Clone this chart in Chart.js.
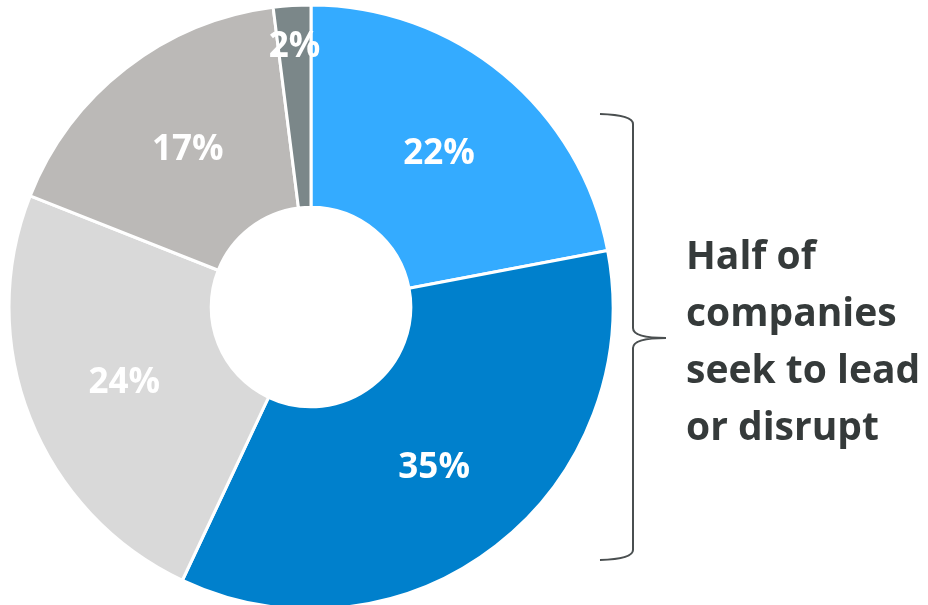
<!DOCTYPE html>
<html lang="en">
<head>
    <meta charset="UTF-8">
    <title>Strategic ambition</title>
    <script src="https://cdn.jsdelivr.net/npm/chart.js"></script>
    <style>
        html, body { margin: 0; padding: 0; background: #ffffff; }
        .chart-box { position: relative; width: 928px; height: 605px; }
    </style>
</head>
<body>
    <div class="chart-box">
        <canvas id="ambitionChart"></canvas>
    </div>
    <script>
        // share of companies per ambition level (clockwise from 12 o'clock)
        const categories = ["Disrupt", "Lead", "Keep pace", "Follow", "Don't know"];
        const shares = [22, 35, 24, 17, 2];
        const sliceColors = ["#34abff", "#0080cc", "#d9d9d9", "#bbb9b7", "#7b8789"];
        const noteLines = ["Half of", "companies", "seek to lead", "or disrupt"];

        // white percentage labels inside each slice
        const sliceLabels = {
            id: "sliceLabels",
            afterDatasetsDraw(chart) {
                const ctx = chart.ctx;
                const meta = chart.getDatasetMeta(0);
                ctx.save();
                ctx.fillStyle = "#ffffff";
                ctx.font = "bold 35px 'Open Sans'";
                ctx.textAlign = "center";
                ctx.textBaseline = "middle";
                meta.data.forEach((arc, i) => {
                    const p = arc.getProps(["x", "y", "startAngle", "endAngle", "innerRadius", "outerRadius"], true);
                    const mid = (p.startAngle + p.endAngle) / 2;
                    // thin slices get their label pushed towards the rim
                    const r = shares[i] < 5 ? p.outerRadius * 0.87 : (p.innerRadius + p.outerRadius) / 2;
                    ctx.fillText(shares[i] + "%", p.x + Math.cos(mid) * r, p.y + Math.sin(mid) * r + 2);
                });
                ctx.restore();
            }
        };

        // curly brace and note next to the two blue slices
        const braceNote = {
            id: "braceNote",
            afterDraw(chart) {
                const ctx = chart.ctx;
                const x = 633, top = 116, bottom = 558, tip = 338;
                ctx.save();
                ctx.strokeStyle = "#4a4f50";
                ctx.lineWidth = 2;
                ctx.beginPath();
                ctx.moveTo(600, top - 2);
                ctx.quadraticCurveTo(x, top - 1, x, top + 8);
                ctx.lineTo(x, tip - 10);
                ctx.quadraticCurveTo(x, tip, 666, tip);
                ctx.quadraticCurveTo(x, tip, x, tip + 10);
                ctx.lineTo(x, bottom - 8);
                ctx.quadraticCurveTo(x, bottom + 1, 600, bottom + 2);
                ctx.stroke();

                ctx.fillStyle = "#353a3a";
                ctx.font = "bold 39px 'Open Sans'";
                ctx.textAlign = "left";
                ctx.textBaseline = "alphabetic";
                noteLines.forEach((line, i) => {
                    ctx.fillText(line, 686, 269 + i * 57);
                });
                ctx.restore();
            }
        };

        new Chart(document.getElementById("ambitionChart"), {
            type: "doughnut",
            data: {
                labels: categories,
                datasets: [{
                    data: shares,
                    backgroundColor: sliceColors,
                    borderColor: "#ffffff",
                    borderWidth: 3
                }]
            },
            options: {
                responsive: true,
                maintainAspectRatio: false,
                animation: false,
                radius: 302,
                cutout: 98,
                layout: { padding: { left: 0, right: 306, top: 9, bottom: 0 } },
                plugins: {
                    legend: { display: false },
                    tooltip: { enabled: false }
                }
            },
            plugins: [sliceLabels, braceNote]
        });
    </script>
</body>
</html>
